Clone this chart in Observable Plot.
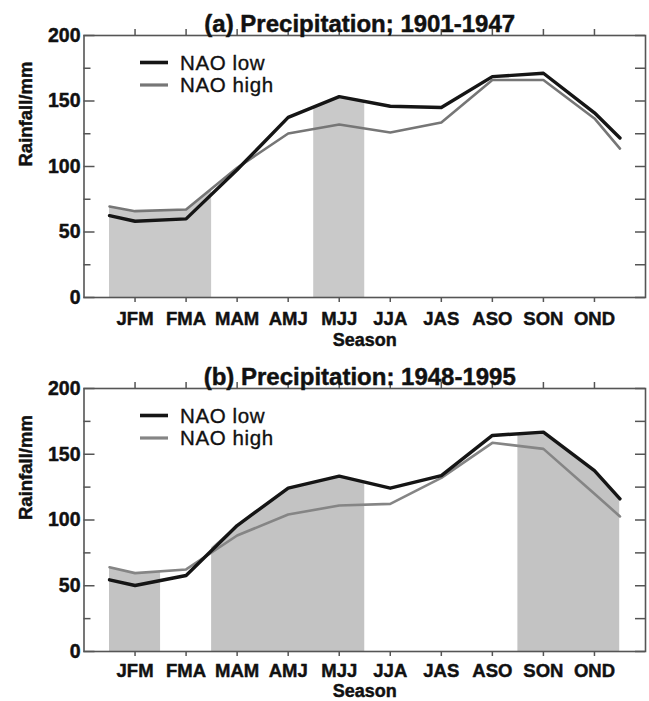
<!DOCTYPE html>
<html><head><meta charset="utf-8">
<script src="https://cdn.jsdelivr.net/npm/d3@7"></script>
<script src="https://cdn.jsdelivr.net/npm/@observablehq/plot@0.6"></script>
<style>
body{margin:0;background:#fff;}
#chart{width:649px;height:701px;overflow:hidden;}
#chart svg{display:block;overflow:visible;}
</style></head><body><div id="chart"></div>
<script>
// Season tick labels and their positions on the x axis
const seasons = ["JFM","FMA","MAM","AMJ","MJJ","JJA","JAS","ASO","SON","OND"];
const seasonPos = [1,2,3,4,5,6,7,8,9,10];
// x positions of the line vertices (half-season extension at each end)
const xPos = [0.5,1,2,3,4,5,6,7,8,9,10,10.5];

// (a) 1901-1947
const lowA  = [62.5,58.2,60.0,97.5,137.5,153.3,146.0,145.0,168.6,171.2,141.0,121.8];
const highA = [69.5,65.9,67.2,99.0,125.2,132.0,126.0,133.6,166.0,166.0,136.7,113.7];
const bandsA = [[0.5,2.5],[4.5,5.5]];

// (b) 1948-1995
const lowB  = [54.5,50.2,57.8,95.8,124.2,133.3,124.2,133.8,164.3,166.8,137.6,116.1];
const highB = [64.1,59.6,62.4,88.2,104.2,111.0,112.3,132.0,158.7,154.1,120.0,102.7];
const bandsB = [[0.5,1.5],[2.5,5.5],[8.5,10.5]];

const yTicks = [0,50,100,150,200];
const yMinor = [25,75,125,175];
const yAll = [0,25,50,75,100,125,150,175,200];
const seriesNames = ["NAO low","NAO high"];

const FONT = "'Liberation Sans', Arial, Helvetica, sans-serif";
const INK = "#111";

function panel({id, title, low, high, bands, shade, highColor, height, marginBottom, tickDy, seasonDy}) {
  const W = 649, mL = 83.5, mR = 4, mT = 35;
  const plotW = W - mL - mR;
  const plotH = height - mT - marginBottom;
  const rows = xPos.map((x, i) => ({x, low: low[i], high: high[i], top: Math.max(low[i], high[i])}));
  const bold = {fontWeight: "bold", fill: INK, stroke: INK, strokeWidth: 0.45};
  const legend = (index, scales, values, dims) => {
    const g = d3.create("svg:g");
    const x0 = dims.marginLeft;
    const items = [
      {name: seriesNames[0], color: "#151515", w: 3.6, dy: 27.5},
      {name: seriesNames[1], color: highColor, w: 3.2, dy: 50}
    ];
    for (const it of items) {
      g.append("line")
        .attr("x1", x0 + 56.5).attr("x2", x0 + 84.5)
        .attr("y1", dims.marginTop + it.dy).attr("y2", dims.marginTop + it.dy)
        .attr("stroke", it.color).attr("stroke-width", it.w);
      g.append("text")
        .attr("x", x0 + 96.5).attr("y", dims.marginTop + it.dy + 7.3)
        .attr("text-anchor", "start")
        .attr("font-size", 20.5).attr("font-family", FONT)
        .attr("fill", INK).attr("stroke", INK).attr("stroke-width", 0.35)
        .attr("letter-spacing", "0.6px")
        .text(it.name);
    }
    return g.node();
  };
  const chart = Plot.plot({
    width: W, height, marginLeft: mL, marginRight: mR, marginTop: mT, marginBottom,
    x: {domain: [0, 11], axis: null},
    y: {domain: [0, 200], axis: null},
    style: {fontFamily: FONT, background: "white", overflow: "visible"},
    marks: [
      Plot.areaY(rows, {x: "x", y1: 0, y2: "top", fill: shade}),
      Plot.lineY(rows, {x: "x", y: "high", stroke: highColor, strokeWidth: 2.6}),
      Plot.lineY(rows, {x: "x", y: "low", stroke: "#151515", strokeWidth: 3.4}),
      Plot.frame({stroke: "#555", strokeWidth: 1.6}),
      // left ticks (inward)
      Plot.tickY(yTicks, {y: d => d, insetRight: plotW - 11, stroke: "#555", strokeWidth: 1.5}),
      Plot.tickY(yMinor, {y: d => d, insetRight: plotW - 7, stroke: "#555", strokeWidth: 1.5}),
      // right ticks (inward)
      Plot.tickY(yAll, {y: d => d, insetLeft: plotW - 10, stroke: "#555", strokeWidth: 1.5}),
      // top and bottom ticks (outward)
      Plot.tickX(seasonPos, {x: d => d, insetTop: -6, insetBottom: plotH, stroke: "#555", strokeWidth: 1.5}),
      Plot.tickX(seasonPos, {x: d => d, insetTop: plotH, insetBottom: -5, stroke: "#555", strokeWidth: 1.5}),
      // tick labels
      Plot.text(yTicks, {y: d => d, text: d => String(d), frameAnchor: "left", textAnchor: "end", dx: -3.5,
        fontSize: 19.5, ...bold}),
      Plot.text(seasonPos, {x: d => d, text: (d, i) => seasons[i], frameAnchor: "bottom", lineAnchor: "top", dy: tickDy,
        fontSize: 18.5, ...bold}),
      // axis titles
      Plot.text(["Season"], {frameAnchor: "bottom", lineAnchor: "middle", dy: seasonDy,
        fontSize: 18, ...bold}),
      Plot.text(["Rainfall/mm"], {frameAnchor: "left", lineAnchor: "middle", rotate: -90, dx: -57.5,
        fontSize: 18.5, ...bold}),
      // panel title
      Plot.text([title], {frameAnchor: "top", lineAnchor: "middle", dy: -11.5, dx: -5,
        fontSize: 24, ...bold}),
      legend
    ]
  });
  // restrict the shading to the highlighted season bands
  const sx = chart.scale("x").apply;
  const svg = d3.select(chart);
  const cp = svg.insert("defs", ":first-child").append("clipPath").attr("id", id);
  for (const [a, b] of bands) {
    cp.append("rect").attr("x", sx(a)).attr("width", sx(b) - sx(a)).attr("y", 0).attr("height", height);
  }
  svg.select('g[aria-label="area"]').attr("clip-path", `url(#${id})`);
  return chart;
}

const root = document.getElementById("chart");
root.append(panel({id: "clipA", title: "(a) Precipitation; 1901-1947", low: lowA, high: highA, bands: bandsA,
  shade: "#c9c9c9", highColor: "#767676", height: 353, marginBottom: 56, tickDy: 14, seasonDy: 43}));
root.append(panel({id: "clipB", title: "(b) Precipitation: 1948-1995", low: lowB, high: highB, bands: bandsB,
  shade: "#c3c3c3", highColor: "#858585", height: 348, marginBottom: 50, tickDy: 12, seasonDy: 40}));
</script>
</body></html>
